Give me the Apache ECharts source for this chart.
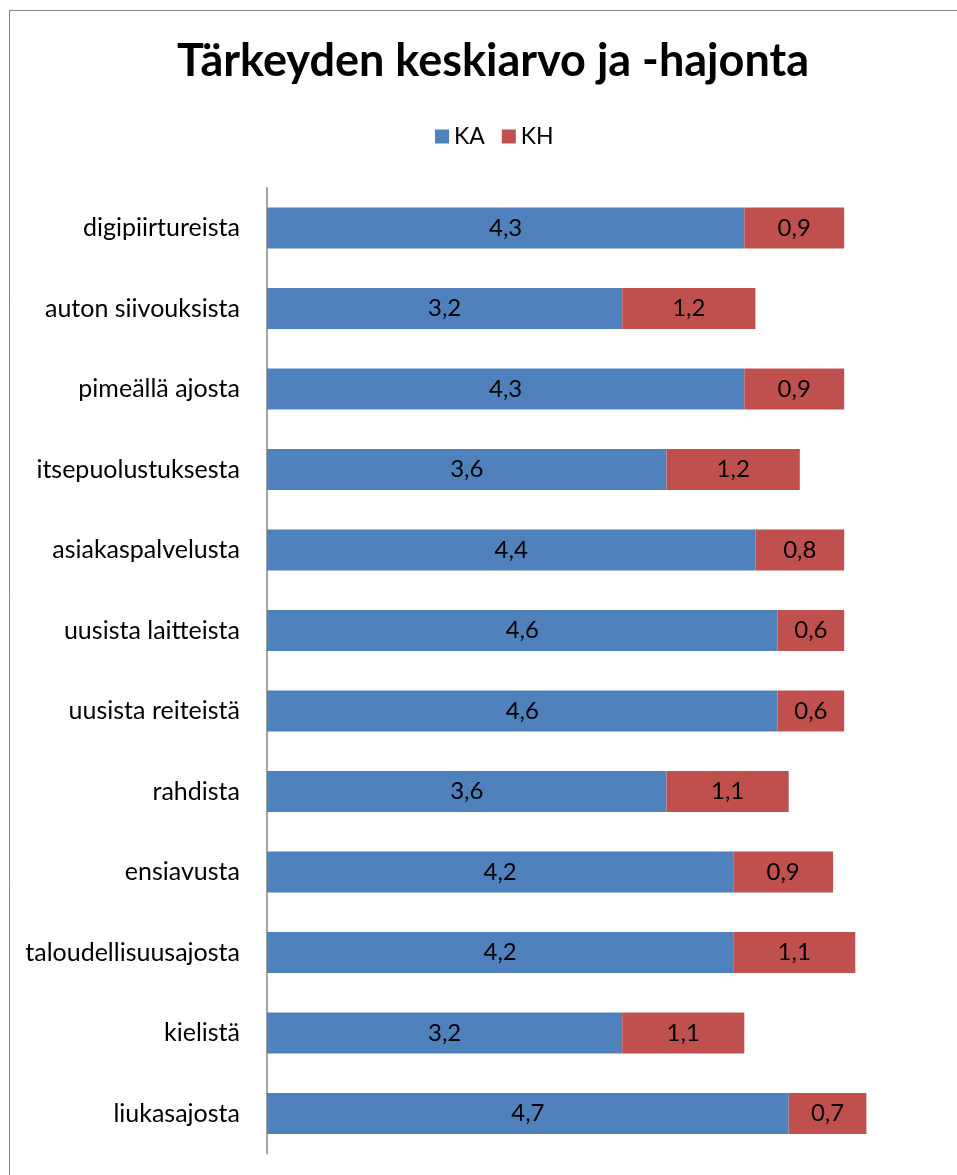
<!DOCTYPE html>
<html>
<head>
<meta charset="utf-8">
<script src="https://cdn.jsdelivr.net/npm/echarts@6/dist/echarts.min.js"></script>
<style>
  html, body { margin: 0; padding: 0; background: #fff; }
  #chart { width: 957px; height: 1175px; }
</style>
</head>
<body>
<div id="chart"></div>
<script>
// Aiheet ylhäältä alas
var categories = [
  'digipiirtureista', 'auton siivouksista', 'pimeällä ajosta', 'itsepuolustuksesta',
  'asiakaspalvelusta', 'uusista laitteista', 'uusista reiteistä', 'rahdista',
  'ensiavusta', 'taloudellisuusajosta', 'kielistä', 'liukasajosta'
];
// Keskiarvo (KA)
var kaValues = [4.3, 3.2, 4.3, 3.6, 4.4, 4.6, 4.6, 3.6, 4.2, 4.2, 3.2, 4.7];
// Keskihajonta (KH)
var khValues = [0.9, 1.2, 0.9, 1.2, 0.8, 0.6, 0.6, 1.1, 0.9, 1.1, 1.1, 0.7];

var FONT = 'Lato, "Open Sans", sans-serif';

function fi(v) { return String(v).replace('.', ','); }

var chart = echarts.init(document.getElementById('chart'), null, { renderer: 'canvas' });

var labelStyle = {
  show: true,
  position: 'inside',
  color: '#000',
  fontFamily: FONT,
  fontSize: 24,
  formatter: function (p) { return fi(p.value); }
};

chart.setOption({
  animation: false,
  backgroundColor: '#fff',
  graphic: [{
    type: 'rect',
    shape: { x: 9.5, y: 10.5, width: 1000, height: 1200 },
    style: { fill: 'none', stroke: '#888', lineWidth: 1 },
    silent: true
  }],
  title: {
    text: 'Tärkeyden keskiarvo ja -hajonta',
    left: 488,
    textAlign: 'center',
    top: 34,
    textStyle: { fontFamily: FONT, fontWeight: 'bold', fontSize: 45, color: '#000' }
  },
  legend: {
    top: 120,
    left: 430,
    itemWidth: 14,
    itemHeight: 14,
    itemGap: 17,
    icon: 'rect',
    textStyle: { fontFamily: FONT, fontSize: 23, color: '#000' },
    data: ['KA', 'KH']
  },
  grid: { left: 267, right: 24, top: 187.75, bottom: 21.25, containLabel: false },
  xAxis: {
    type: 'value',
    min: 0,
    max: 6,
    interval: 1,
    show: false
  },
  yAxis: {
    type: 'category',
    data: categories,
    inverse: true,
    axisLine: { show: true, lineStyle: { color: '#868686', width: 1.5 } },
    axisTick: { show: false },
    axisLabel: { margin: 27, color: '#000', fontFamily: FONT, fontSize: 25 }
  },
  series: [
    {
      name: 'KA',
      type: 'bar',
      stack: 'tot',
      barWidth: '51%',
      data: kaValues,
      itemStyle: { color: '#4F81BD' },
      label: labelStyle
    },
    {
      name: 'KH',
      type: 'bar',
      stack: 'tot',
      data: khValues,
      itemStyle: { color: '#C0504D' },
      label: labelStyle
    }
  ]
});
</script>
</body>
</html>
